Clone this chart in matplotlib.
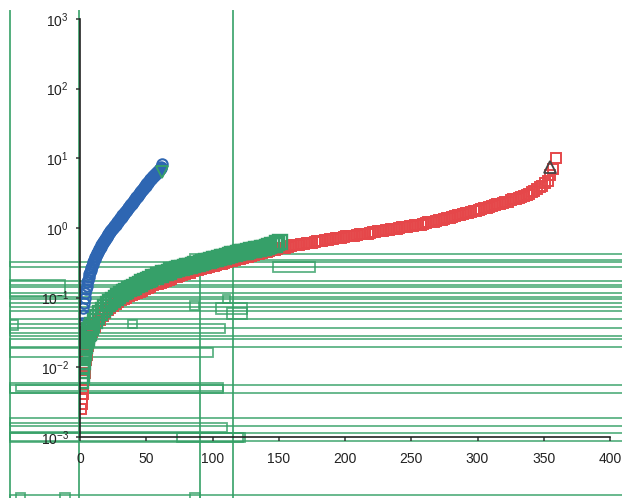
import numpy as np
import matplotlib
matplotlib.use("Agg")
import matplotlib.pyplot as plt
from matplotlib.patches import Rectangle
from matplotlib.lines import Line2D

plt.rcParams['font.family'] = ['Liberation Sans', 'DejaVu Sans']
plt.rcParams['mathtext.default'] = 'regular'

# ---------------- data (y values read as log10 exponents) ----------------
blue_x = [i / 2 for i in range(2, 125)]          # 1.0 ... 62.0 step 0.5
blue_log10 = [-1.50, -1.37, -1.25, -1.15, -1.07, -1.00, -0.94, -0.88, -0.83, -0.78,
              -0.74, -0.70, -0.66, -0.63, -0.60, -0.57, -0.54, -0.51, -0.49, -0.46,
              -0.44, -0.42, -0.40, -0.38, -0.36, -0.34, -0.32, -0.30, -0.285, -0.27,
              -0.25, -0.235, -0.22, -0.205, -0.19, -0.175, -0.16, -0.145, -0.13, -0.115,
              -0.10, -0.088, -0.075, -0.062, -0.05, -0.035, -0.02, -0.01, 0.00,
              0.01, 0.03, 0.04, 0.05, 0.06, 0.08, 0.09, 0.10, 0.11, 0.13,
              0.14, 0.15, 0.16, 0.18, 0.19, 0.20, 0.21, 0.23, 0.24, 0.25,
              0.26, 0.28, 0.29, 0.30, 0.31, 0.33, 0.34, 0.35, 0.36, 0.38,
              0.39, 0.40, 0.41, 0.43, 0.44, 0.45, 0.46, 0.48, 0.49, 0.50,
              0.51, 0.53, 0.54, 0.55, 0.56, 0.58, 0.59, 0.60, 0.61, 0.63,
              0.64, 0.65, 0.66, 0.68, 0.69, 0.70, 0.71, 0.72, 0.73, 0.74,
              0.75, 0.76, 0.77, 0.78, 0.79, 0.80, 0.81, 0.82, 0.83, 0.84,
              0.85, 0.86, 0.87, 0.92]

green_x = [1, 1.25, 1.5, 1.75, 2, 2.25, 2.5, 2.75, 3, 3.5, 4, 4.5, 5, 5.5, 6, 6.5,
           7, 8, 9] + list(range(11, 152, 2))
green_log10 = [-2.20, -2.12, -2.05, -1.98, -1.92, -1.87, -1.83, -1.79, -1.76, -1.70,
               -1.66, -1.62, -1.59, -1.55, -1.52, -1.50, -1.47, -1.43, -1.39,
               -1.34, -1.28, -1.22, -1.17, -1.13, -1.09,
               -1.06, -1.03, -1.00, -0.97, -0.95, -0.92, -0.90, -0.88, -0.86, -0.84,
               -0.82, -0.80, -0.78, -0.76, -0.74, -0.73, -0.71, -0.70, -0.68, -0.67,
               -0.65, -0.64, -0.63, -0.61, -0.60, -0.59, -0.58, -0.57, -0.56, -0.55,
               -0.54, -0.53, -0.52, -0.51, -0.50, -0.49, -0.48, -0.47, -0.46, -0.45,
               -0.44, -0.43, -0.42, -0.41, -0.40, -0.39, -0.38, -0.37, -0.36, -0.35,
               -0.35, -0.34, -0.33, -0.32, -0.31, -0.30, -0.30, -0.29, -0.28, -0.27,
               -0.26, -0.25, -0.24, -0.22, -0.20]

red_x = [1, 1.3, 1.6, 2.0, 2.4, 3, 3.5, 4, 4.5, 5, 6, 7, 8, 9, 10, 11] + list(range(13, 360, 2))
red_log10 = [-2.60, -2.52, -2.45, -2.38, -2.30, -2.18, -2.08, -1.98, -1.90, -1.82,
             -1.70, -1.61, -1.54, -1.49, -1.45, -1.42,
             -1.37, -1.32, -1.27, -1.22, -1.18,
             -1.15, -1.12, -1.09, -1.06, -1.04, -1.02, -1.00, -0.98, -0.96, -0.95,
             -0.93, -0.92, -0.90, -0.88, -0.86, -0.84, -0.82, -0.81, -0.80, -0.79,
             -0.78, -0.76, -0.74, -0.73, -0.71, -0.70, -0.69, -0.67, -0.66, -0.65,
             -0.64, -0.62, -0.61, -0.60, -0.59, -0.58, -0.57, -0.56, -0.55, -0.54,
             -0.53, -0.52, -0.51, -0.50, -0.49, -0.48, -0.47, -0.46, -0.45, -0.44,
             -0.43, -0.42, -0.41, -0.40, -0.39, -0.38, -0.37, -0.36, -0.35, -0.34,
             -0.33, -0.32, -0.31, -0.30, -0.29, -0.28, -0.28, -0.27, -0.26, -0.25,
             -0.25, -0.24, -0.23, -0.23, -0.22, -0.21, -0.21, -0.20, -0.19, -0.19,
             -0.18, -0.17, -0.17, -0.16, -0.16, -0.15, -0.14, -0.14, -0.13, -0.12,
             -0.12, -0.11, -0.11, -0.10, -0.09, -0.09, -0.08, -0.08, -0.07, -0.06,
             -0.06, -0.05, -0.04, -0.04, -0.03, -0.03, -0.02, -0.01, -0.01, 0.00,
             0.01, 0.01, 0.02, 0.03, 0.03, 0.04, 0.05, 0.05, 0.06, 0.07,
             0.08, 0.09, 0.09, 0.10, 0.11, 0.12, 0.13, 0.14, 0.15, 0.16,
             0.17, 0.18, 0.19, 0.20, 0.21, 0.22, 0.23, 0.24, 0.25, 0.26,
             0.27, 0.28, 0.29, 0.30, 0.31, 0.33, 0.34, 0.35, 0.36, 0.37,
             0.38, 0.40, 0.41, 0.42, 0.43, 0.45, 0.46, 0.48, 0.49, 0.51,
             0.53, 0.56, 0.59, 0.61, 0.64, 0.68, 0.76, 0.85, 1.00]

green_tri_x, green_tri_y = [62], [6.4]
black_tri_x, black_tri_y = [354.5], [7.5]

x_ticks = [0, 50, 100, 150, 200, 250, 300, 350, 400]
y_ticks = [1e-3, 1e-2, 1e-1, 1e0, 1e1, 1e2, 1e3]

# stray green box outlines (figure pixel coords: x0, y0, x1, y1 from top-left)
stray_boxes = [
    (10, 262, 700, 267), (190, 254, 700, 260), (10, 281, 700, 285), (10, 287, 700, 293),
    (10, 297, 700, 299), (10, 303, 700, 307), (10, 311, 700, 319), (10, 328, 700, 336),
    (10, 339, 700, 347), (10, 385, 700, 393), (10, 418, 700, 426), (10, 433, 700, 441),
    (10, 495, 700, 520),
    (273, 262, 315, 272), (10, 280, 65, 296), (190, 301, 199, 310), (223, 295, 230, 303),
    (216, 303, 247, 314), (227, 308, 247, 319), (128, 320, 137, 328), (10, 320, 18, 330),
    (10, 324, 225, 333), (10, 348, 213, 357), (10, 383, 223, 393), (16, 385, 223, 391),
    (10, 423, 227, 432), (10, 433, 245, 442), (177, 433, 243, 442),
    (16, 493, 25, 520), (190, 493, 200, 520), (60, 493, 70, 520),
]
# stray vertical green lines (x, y_top, y_bottom) in figure pixels
stray_vlines = [(10, 11, 498), (79, 11, 498), (233, 11, 498), (200, 254, 498)]

# ---------------- figure ----------------
W, H = 622, 498
fig = plt.figure(figsize=(W / 100, H / 100), dpi=100)
ax = fig.add_axes([80 / W, 1 - 437 / H, 530 / W, 418 / H])
ax.patch.set_alpha(0)

gcol = '#35a066'
for (x0, y0, x1, y1) in stray_boxes:
    fig.patches.append(Rectangle((x0 / W, 1 - y1 / H), (x1 - x0) / W, (y1 - y0) / H,
                                 transform=fig.transFigure, fill=False,
                                 edgecolor=gcol, lw=1.3, alpha=0.8, zorder=-1))
for (xv, yt, yb) in stray_vlines:
    fig.lines.append(Line2D([xv / W, xv / W], [1 - yt / H, 1 - yb / H],
                            transform=fig.transFigure, color=gcol, lw=1.4,
                            alpha=0.85, zorder=-1))

ax.plot(red_x, 10 ** np.array(red_log10), ls='none', marker='s', ms=7,
        mfc='none', mec='#e5474a', mew=1.4)
ax.plot(blue_x, 10 ** np.array(blue_log10), ls='none', marker='o', ms=7.5,
        mfc='none', mec='#2e66b2', mew=1.5)
ax.plot(green_x, 10 ** np.array(green_log10), ls='none', marker='s', ms=9.5,
        mfc='none', mec='#36a069', mew=1.7)
ax.plot(green_tri_x, green_tri_y, ls='none', marker='v', ms=8,
        mfc='none', mec='#36a069', mew=1.3)
ax.plot(black_tri_x, black_tri_y, ls='none', marker='^', ms=8,
        mfc='none', mec='#444444', mew=1.3)

ax.set_yscale('log')
ax.set_xlim(0, 400)
ax.set_ylim(1e-3, 1e3)
ax.set_xticks(x_ticks)
ax.set_yticks(y_ticks)
ax.minorticks_off()
ax.spines['top'].set_visible(False)
ax.spines['right'].set_visible(False)
for s in ('left', 'bottom'):
    ax.spines[s].set_linewidth(1.2)
    ax.spines[s].set_color('#222222')
ax.tick_params(axis='both', direction='out', length=3, width=1.1, color='#333333',
               labelsize=10, labelcolor='#222222')
ax.tick_params(axis='x', pad=8)
ax.tick_params(axis='y', pad=5)

fig.savefig('out.png', dpi=100)
